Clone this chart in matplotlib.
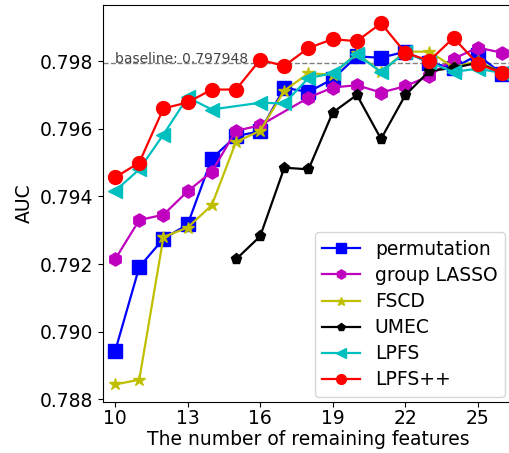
import matplotlib
matplotlib.use("Agg")
import matplotlib.pyplot as plt

# values
x_all = list(range(10, 27))
auc_perm = [0.78942, 0.79191, 0.79275, 0.79317, 0.79512, 0.79578, 0.79593, 0.79721, 0.79709,
            0.79747, 0.79814, 0.79810, 0.79828, 0.79795, 0.79780, 0.79818, 0.79763]
x_lasso = [10, 11, 12, 13, 14, 15, 16, 18, 19, 20, 21, 22, 23, 24, 25, 26]
auc_lasso = [0.79214, 0.79330, 0.79346, 0.79415, 0.79473, 0.79594, 0.79610, 0.79692,
             0.79722, 0.79729, 0.79707, 0.79726, 0.79756, 0.79807, 0.79840, 0.79825]
auc_fscd = [0.78844, 0.78858, 0.79280, 0.79308, 0.79374, 0.79561, 0.79594, 0.79713, 0.79764,
            0.79760, 0.79823, 0.79768, 0.79828, 0.79828, 0.79782, 0.79800, 0.79765]
x_umec = list(range(15, 27))
auc_umec = [0.79214, 0.79282, 0.79485, 0.79480, 0.79648, 0.79700, 0.79570, 0.79699,
            0.79771, 0.79780, 0.79795, 0.79765]
x_lpfs = [10, 11, 12, 13, 14, 16, 17, 18, 19, 20, 21, 22, 23, 24, 25, 26]
auc_lpfs = [0.79416, 0.79480, 0.79583, 0.79693, 0.79657, 0.79677, 0.79675, 0.79750,
            0.79764, 0.79820, 0.79768, 0.79826, 0.79797, 0.79768, 0.79778, 0.79765]
auc_lpfspp = [0.79456, 0.79500, 0.79660, 0.79678, 0.79716, 0.79716, 0.79804, 0.79786, 0.79839,
              0.79865, 0.79859, 0.79912, 0.79825, 0.79801, 0.79869, 0.79792, 0.79765]
baseline = 0.797948
xticks = [10, 13, 16, 19, 22, 25]

plt.rcParams["font.size"] = 13.5

fig = plt.figure(figsize=(5.10, 4.53), dpi=100)
ax = fig.add_axes([103 / 510, 51.3 / 453, 411 / 510, 396.7 / 453])

ax.axhline(baseline, color="gray", linestyle="--", linewidth=1)
ax.text(10, baseline, "baseline: %.6f" % baseline, fontsize=10, color="#444444", va="baseline")

ax.plot(x_all, auc_perm, "b-s", ms=9.5, lw=1.6, label="permutation")
ax.plot(x_lasso, auc_lasso, "m-h", ms=9.5, lw=1.6, label="group LASSO")
ax.plot(x_all, auc_fscd, "y-*", ms=9, lw=1.6, label="FSCD")
ax.plot(x_umec, auc_umec, "k-p", ms=8, lw=1.6, label="UMEC")
ax.plot(x_lpfs, auc_lpfs, "c-<", ms=10, lw=1.6, label="LPFS")
ax.plot(x_all, auc_lpfspp, "r-o", ms=10, lw=1.6, label="LPFS++")

ax.set_xlim(9.5, 26.5)
ax.set_ylim(0.78793, 0.79966)
ax.set_xticks(xticks)
ax.set_yticks([0.788, 0.790, 0.792, 0.794, 0.796, 0.798])
ax.yaxis.set_major_formatter(matplotlib.ticker.FormatStrFormatter("%.3f"))
ax.tick_params(axis="x", pad=2)
ax.set_xlabel("The number of remaining features", labelpad=1)
ax.set_ylabel("AUC")
ax.legend(loc="lower right", markerscale=0.7, labelspacing=0.38, borderaxespad=0,
          bbox_to_anchor=(0.978, 0.012))

fig.savefig("out.png", dpi=100)
